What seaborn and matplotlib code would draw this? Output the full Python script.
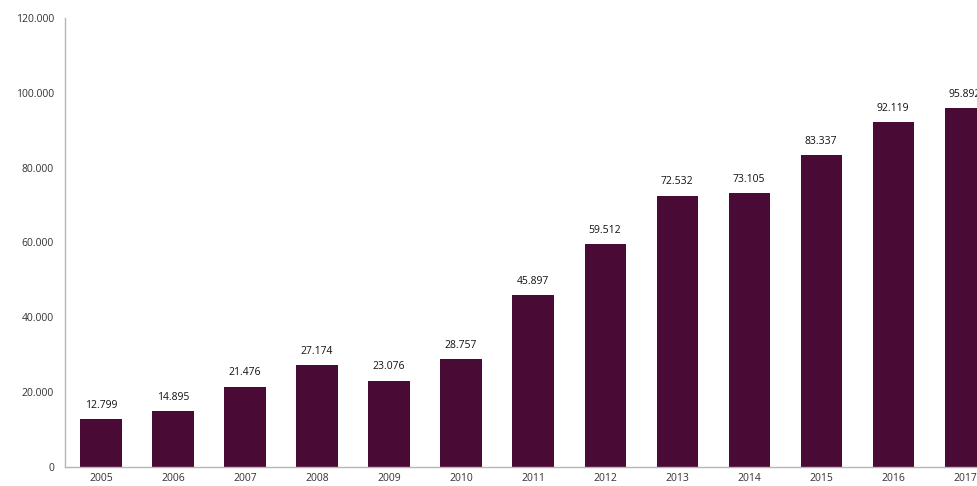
import matplotlib
matplotlib.use("Agg")
import matplotlib.pyplot as plt
from matplotlib.ticker import FuncFormatter, FixedLocator
import seaborn as sns
import pandas as pd

years = ["2005", "2006", "2007", "2008", "2009", "2010", "2011",
         "2012", "2013", "2014", "2015", "2016", "2017"]
values = [12799, 14895, 21476, 27174, 23076, 28757, 45897,
          59512, 72532, 73105, 83337, 92119, 95892]
y_ticks = [0, 20000, 40000, 60000, 80000, 100000, 120000]

bar_color = "#4a0a36"
axis_gray = "#b5b5b5"


def dot_thousands(v, _pos=None):
    return f"{int(round(v)):,}".replace(",", ".")


sns.set_style("white")
plt.rcParams["font.family"] = ["Open Sans", "DejaVu Sans"]

df = pd.DataFrame({"year": years, "value": values})

fig = plt.figure(figsize=(9.78, 4.86), dpi=100)
ax = fig.add_axes([65 / 978, 19 / 486, 1 - 65 / 978, (467 - 18) / 486])

sns.barplot(data=df, x="year", y="value", color=bar_color, width=0.57,
            saturation=1, ax=ax, edgecolor="none")

ax.set_xlim(-0.5, 12.18)
ax.set_ylim(0, 120000)
ax.set_yticks(y_ticks)
ax.yaxis.set_major_formatter(FuncFormatter(dot_thousands))
ax.set_xlabel("")
ax.set_ylabel("")

for s in ["top", "right"]:
    ax.spines[s].set_visible(False)
for s in ["left", "bottom"]:
    ax.spines[s].set_color(axis_gray)
    ax.spines[s].set_linewidth(1.0)

ax.tick_params(axis="y", which="major", direction="inout", length=4,
               color=axis_gray, labelsize=7.5, labelcolor="#333333", pad=6)
ax.tick_params(axis="x", which="major", length=0, labelsize=7.5,
               labelcolor="#333333", pad=4)
ax.xaxis.set_minor_locator(FixedLocator([i + 0.5 for i in range(len(years))]))
ax.tick_params(axis="x", which="minor", direction="out", length=3,
               color=axis_gray)

for i, v in enumerate(values):
    ax.annotate(dot_thousands(v), xy=(i, v), xytext=(0, 6),
                textcoords="offset points", ha="center", va="bottom",
                fontsize=7.5, color="#111111", annotation_clip=False)

fig.savefig("out.png", dpi=100)
